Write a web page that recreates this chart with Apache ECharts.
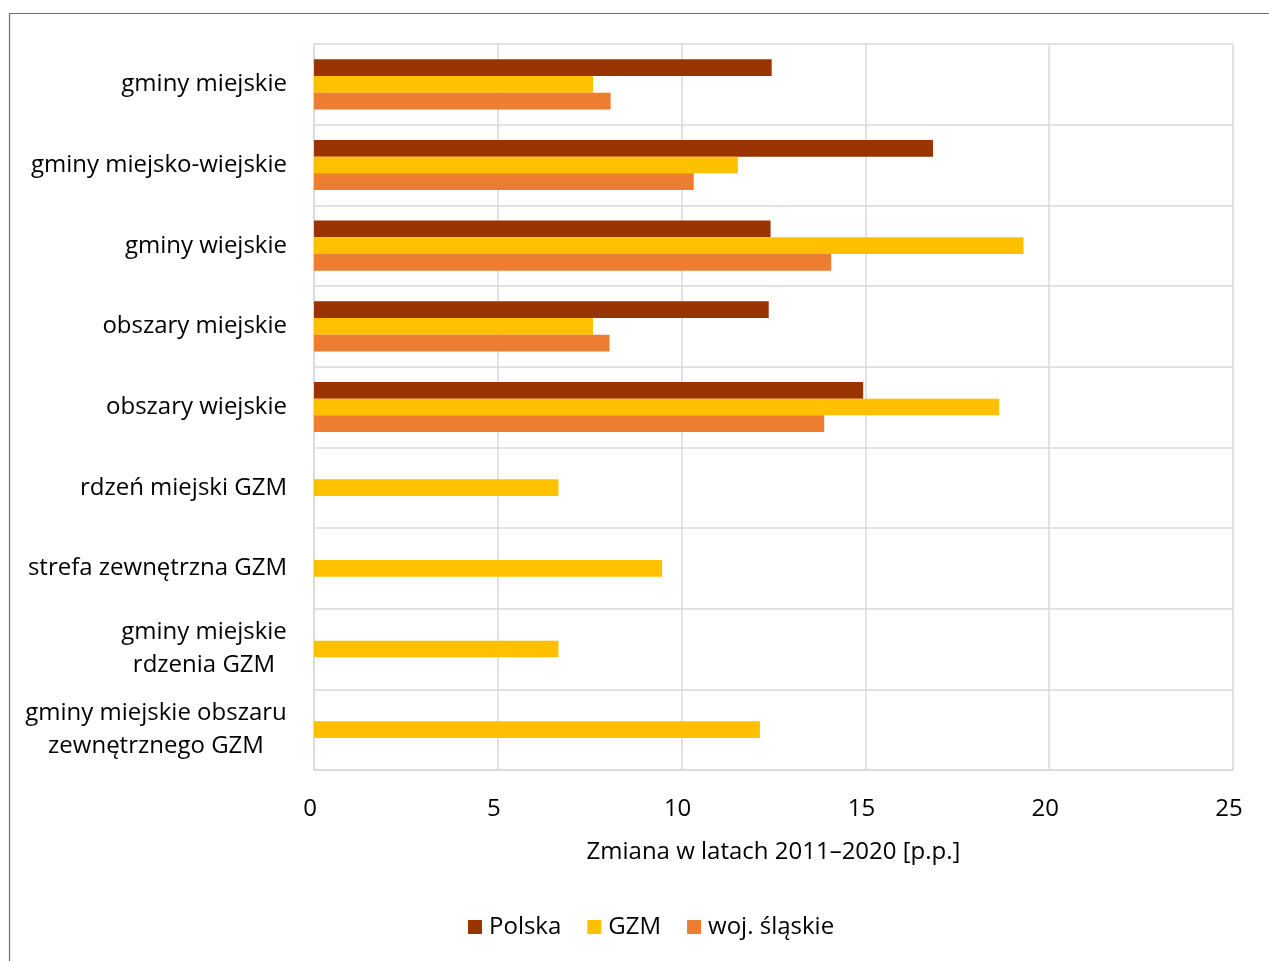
<!DOCTYPE html>
<html>
<head>
<meta charset="utf-8">
<script src="https://cdn.jsdelivr.net/npm/echarts@6/dist/echarts.min.js"></script>
<style>
  html, body { margin: 0; padding: 0; background: #fff; }
  #chart { width: 1269px; height: 961px; }
</style>
</head>
<body>
<div id="chart"></div>
<script>
// Categories (top to bottom)
const categories = [
  'gminy miejskie',
  'gminy miejsko-wiejskie',
  'gminy wiejskie',
  'obszary miejskie',
  'obszary wiejskie',
  'rdzeń miejski GZM',
  'strefa zewnętrzna GZM',
  'gminy miejskie\nrdzenia GZM',
  'gminy miejskie obszaru\nzewnętrznego GZM'
];

// Change 2011–2020 in percentage points
const polska   = [12.45, 16.84, 12.42, 12.37, 14.94, null, null, null, null];
const gzm      = [7.59, 11.53, 19.30, 7.59, 18.64, 6.65, 9.47, 6.65, 12.13];
const slaskie  = [8.07, 10.33, 14.07, 8.04, 13.88, null, null, null, null];

const seriesNames = ['Polska', 'GZM', 'woj. śląskie'];
const xTicks = { min: 0, max: 25, interval: 5 };
const xAxisTitle = 'Zmiana w latach 2011–2020 [p.p.]';

const FONT = '"Open Sans", "Noto Sans", sans-serif';
const FONT_SIZE = 24;
const colors = ['#993300', '#FFC000', '#ED7D31'];

// Multi-line labels are centred line by line inside their block
const ctx = document.createElement('canvas').getContext('2d');
ctx.font = FONT_SIZE + 'px "Open Sans"';
const rich = {};
const labelMap = {};
categories.forEach((c, i) => {
  if (c.indexOf('\n') >= 0) {
    const lines = c.split('\n');
    const w = Math.max(...lines.map(l => ctx.measureText(l).width));
    const key = 'm' + i;
    rich[key] = { width: Math.ceil(w), align: 'center', fontSize: FONT_SIZE, fontFamily: FONT, color: '#000', lineHeight: 33 };
    labelMap[c] = lines.map(l => '{' + key + '|' + l + '}').join('\n');
  }
});

const chart = echarts.init(document.getElementById('chart'), null, { renderer: 'canvas' });

const bar = (name, data, color) => ({
  name, type: 'bar', data,
  itemStyle: { color },
  barWidth: 16.7,
  barGap: '0%',
  barCategoryGap: '38%'
});

chart.setOption({
  backgroundColor: '#fff',
  animation: false,
  textStyle: { fontFamily: FONT },
  graphic: [{
    type: 'rect',
    shape: { x: 9.5, y: 13.5, width: 1320, height: 1000 },
    style: { fill: 'none', stroke: '#707070', lineWidth: 1.2 },
    silent: true
  }],
  grid: { left: 314, right: 36, top: 44, bottom: 191, containLabel: false },
  legend: {
    data: seriesNames,
    bottom: 17,
    left: 463,
    itemWidth: 14,
    itemHeight: 14,
    itemGap: 26,
    icon: 'rect',
    textStyle: { fontSize: FONT_SIZE, color: '#000', fontFamily: FONT, padding: [0, 0, 0, 2] }
  },
  xAxis: {
    type: 'value',
    min: xTicks.min, max: xTicks.max, interval: xTicks.interval,
    name: xAxisTitle,
    nameLocation: 'middle',
    nameGap: 70,
    nameTextStyle: { fontSize: FONT_SIZE, color: '#000', fontFamily: FONT },
    axisLine: { show: true, lineStyle: { color: '#d9d9d9', width: 1.5 } },
    axisTick: { show: false },
    axisLabel: { fontSize: FONT_SIZE, color: '#000', margin: 27, fontFamily: FONT, padding: [0, 8, 0, 0] },
    splitLine: { show: true, lineStyle: { color: '#d9d9d9', width: 1.5 } }
  },
  yAxis: {
    type: 'category',
    data: categories,
    inverse: true,
    axisLine: { show: true, lineStyle: { color: '#d9d9d9', width: 1.5 } },
    axisTick: { show: false },
    splitLine: { show: true, lineStyle: { color: '#d9d9d9', width: 1.5 } },
    axisLabel: {
      fontSize: FONT_SIZE, color: '#000', margin: 27, fontFamily: FONT,
      lineHeight: 33, interval: 0,
      formatter: v => labelMap[v] || v,
      rich
    }
  },
  series: [
    bar(seriesNames[0], polska, colors[0]),
    bar(seriesNames[1], gzm, colors[1]),
    bar(seriesNames[2], slaskie, colors[2])
  ]
});
</script>
</body>
</html>
